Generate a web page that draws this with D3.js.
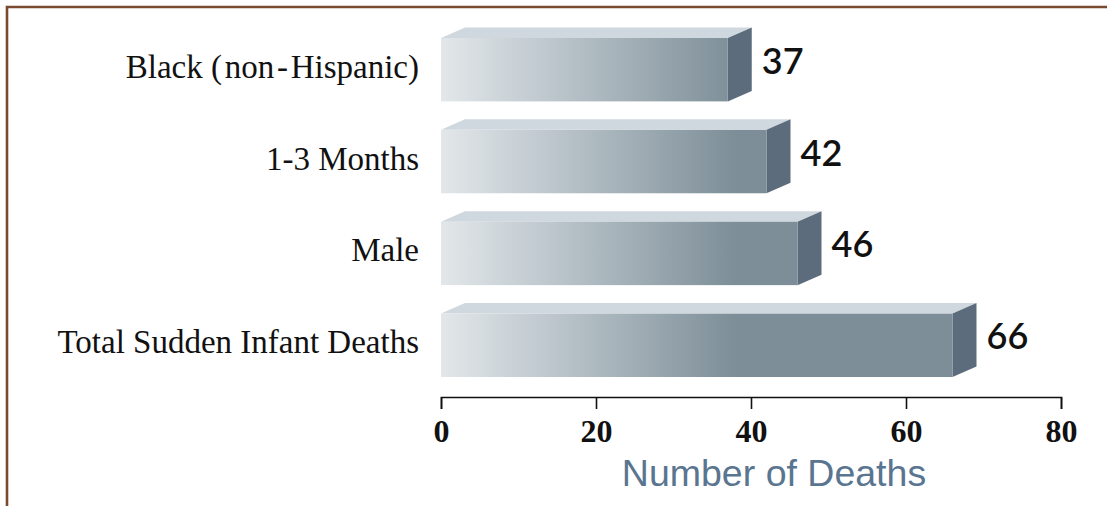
<!DOCTYPE html>
<html><head><meta charset="utf-8">
<script src="https://cdn.jsdelivr.net/npm/d3@7"></script>
<style>body{margin:0;background:#fff;}svg{display:block;}</style>
</head><body>
<script>
const categories = ["Black (\u200anon\u200a-\u200aHispanic)", "1-3 Months", "Male", "Total Sudden Infant Deaths"];
const values = [37, 42, 46, 66];
const tickValues = [0, 20, 40, 60, 80];
const axisTitle = "Number of Deaths";

const W = 1107, H = 506;
const svg = d3.select("body").append("svg").attr("width", W).attr("height", H);

// border
svg.append("path").attr("d", `M7,506V7H1107`).attr("fill","none")
  .attr("stroke","#7a4a30").attr("stroke-width",2.6);

const x = d3.scaleLinear().domain([0, 80]).range([441, 1061]);
const y = d3.scaleBand().domain(categories).range([38, 377]).paddingInner(0.31).paddingOuter(0);

const defs = svg.append("defs");
const g = defs.append("linearGradient").attr("id","front").attr("gradientUnits","userSpaceOnUse")
  .attr("x1", x(0)).attr("x2", x(38)).attr("y1",0).attr("y2",0);
g.append("stop").attr("offset","0").attr("stop-color","#e3e7ea");
g.append("stop").attr("offset","0.45").attr("stop-color","#b5c0c6");
g.append("stop").attr("offset","1").attr("stop-color","#7d8e98");

const dx = 24, dy = -10.5;
const bars = svg.append("g").selectAll("g").data(categories).join("g");
bars.append("path").attr("fill","#d0d8df")
  .attr("d",(d,i)=>{const x0=x(0),x1=x(values[i]),yt=y(d);return `M${x0},${yt}L${x0+dx},${yt+dy}L${x1+dx},${yt+dy}L${x1},${yt}Z`;});
bars.append("path").attr("fill","#5c6c7c")
  .attr("d",(d,i)=>{const x1=x(values[i]),yt=y(d),yb=yt+y.bandwidth();return `M${x1},${yt}L${x1+dx},${yt+dy}L${x1+dx},${yb+dy}L${x1},${yb}Z`;});
bars.append("rect").attr("x",x(0)).attr("y",d=>y(d)).attr("width",(d,i)=>x(values[i])-x(0))
  .attr("height",y.bandwidth()).attr("fill","url(#front)");
bars.append("text").attr("x",(d,i)=>x(values[i])+dx+10).attr("y",d=>y(d)+y.bandwidth()/2+4)
  .attr("font-family","Lato, Liberation Sans, Arial, sans-serif").attr("font-weight",600)
  .attr("font-size",36).attr("fill","#111")
  .text((d,i)=>values[i]);

// category labels
svg.append("g").selectAll("text").data(categories).join("text")
  .attr("x",419).attr("y",d=>y(d)+y.bandwidth()/2+8).attr("text-anchor","end")
  .attr("font-family","Liberation Serif, Times New Roman, serif").attr("font-size",33).attr("fill","#111")
  .text(d=>d);

// x axis
const ax = svg.append("g").attr("transform","translate(0,397)")
  .call(d3.axisBottom(x).tickValues(tickValues).tickSize(12).tickSizeOuter(12).tickFormat(d3.format("d")));
ax.select(".domain").attr("stroke","#111").attr("stroke-width",1.6);
ax.selectAll(".tick line").attr("stroke","#111").attr("stroke-width",1.6);
ax.selectAll(".tick text").attr("font-family","Liberation Serif, Times New Roman, serif")
  .attr("font-weight","bold").attr("font-size",32).attr("fill","#111").attr("y",22).attr("dy","0.71em");

svg.append("text").attr("x",774).attr("y",486).attr("text-anchor","middle")
  .attr("font-family","Liberation Sans, Arial, sans-serif").attr("font-size",37.5).attr("fill","#5a7590")
  .text(axisTitle);
</script>
</body></html>
